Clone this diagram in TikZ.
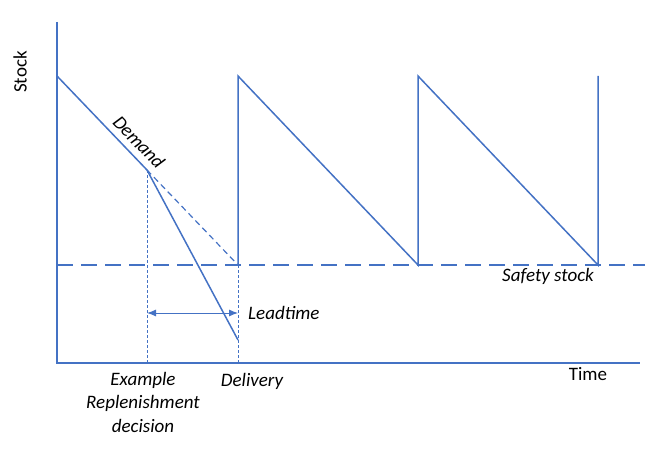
\documentclass[tikz,border=0pt]{standalone}
\usepackage{fontspec}
\setmainfont{Carlito}
\usepackage{tikz}
\usetikzlibrary{arrows.meta, positioning, calc}
\definecolor{myblue}{RGB}{68,114,196}
\tikzset{
  axis/.style={line width=2pt, color=myblue},
  saw/.style={line width=1.5pt, color=myblue},
  safety/.style={line width=1.5pt, color=myblue, dash pattern=on 16pt off 8pt},
  proj/.style={line width=1.2pt, color=myblue, dash pattern=on 6pt off 4pt},
  guide/.style={line width=0.7pt, color=myblue, dash pattern=on 3pt off 2pt},
  lead/.style={{Latex[length=9pt,width=7pt]}-{Latex[length=9pt,width=7pt]}, line width=0.9pt, color=myblue},
  lbl/.style={font=\fontsize{19}{23}\selectfont, inner sep=0pt},
  ilbl/.style={lbl, font=\fontsize{19}{23.5}\selectfont\itshape}
}
\begin{document}
\begin{tikzpicture}[x=1pt, y=-1pt]
  \useasboundingbox (0,0) rectangle (672,457);
  % key points
  \coordinate (origin) at (57,363);
  \coordinate (ytop) at (57,22);
  \coordinate (xend) at (640,363);
  \coordinate (start) at (57,76);
  \coordinate (decide) at (147,170);
  \coordinate (low) at (238,340);
  \coordinate (d1) at (238,265);
  \coordinate (p1) at (238,76);
  \coordinate (d2) at (418,265);
  \coordinate (p2) at (418,76);
  \coordinate (d3) at (598,265);
  \coordinate (p3) at (598,76);
  \coordinate (sleft) at (57,265);
  \coordinate (sright) at (645,265);
  \coordinate (gdecide) at (147,363);
  \coordinate (gdeliver) at (238,363);
  \coordinate (la) at (147,313);
  \coordinate (lb) at (238,313);

  % axes
  \draw[axis] (ytop) -- (origin) -- (xend);
  \node[lbl, rotate=90] (stock) at (20,72) {Stock};
  \node[lbl] (time) at (588,374) {Time};

  % safety stock
  \draw[safety] (sleft) -- (sright);
  \node[ilbl] (safetylbl) at (548,276) {Safety stock};

  % stock levels
  \draw[saw] (start) -- (decide) -- (low);
  \draw[saw] (d1) -- (p1) -- (d2) -- (p2) -- (d3) -- (p3);
  \draw[proj] (decide) -- (d1);
  \node[ilbl, rotate=-46.2] (demand) at (139,142) {Demand};

  % leadtime
  \draw[guide] (decide) -- (gdecide);
  \draw[guide] (d1) -- (gdeliver);
  \draw[lead] (la) -- (lb);
  \node[ilbl, right=10pt of lb] (leadlbl) {Leadtime};

  % time marks
  \node[ilbl, align=center, anchor=north] (example) at (143,372) {Example\\Replenishment\\decision};
  \node[ilbl, anchor=north] (delivery) at (252,373) {Delivery};
\end{tikzpicture}
\end{document}
